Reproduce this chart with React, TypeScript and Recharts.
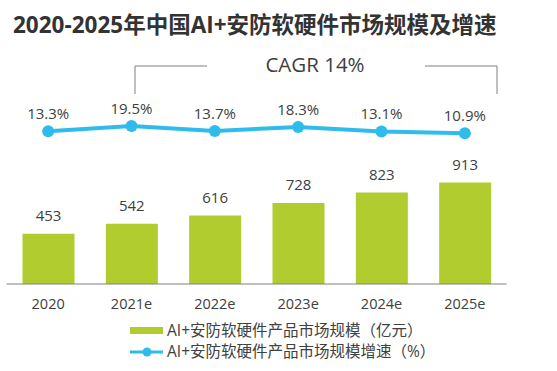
import React from 'react';
import { ComposedChart, Bar, Line, XAxis, YAxis, LabelList, Customized } from 'recharts';

const categories = ['2020', '2021e', '2022e', '2023e', '2024e', '2025e'];
const marketSize = [453, 542, 616, 728, 823, 913];
const growthRate = [13.3, 19.5, 13.7, 18.3, 13.1, 10.9];

const title = '2020-2025年中国AI+安防软硬件市场规模及增速';
const cagrLabel = 'CAGR 14%';
const barName = 'AI+安防软硬件产品市场规模（亿元）';
const lineName = 'AI+安防软硬件产品市场规模增速（%）';

const GREEN = '#b0cc2e';
const BLUE = '#2fbcec';
const TEXT = '#404040';
const GRAY = '#808080';
const FONT = "'Open Sans', 'Noto Sans CJK SC', sans-serif";

const data = categories.map((c, i) => ({ name: c, size: marketSize[i], rate: growthRate[i] }));

const CagrBracket = () => (
  <g>
    <polyline points="135,94 135,66 207,66" fill="none" stroke={GRAY} strokeWidth={1} />
    <polyline points="425,66 497,66 497,94" fill="none" stroke={GRAY} strokeWidth={1} />
    <text x={315} y={71.5} textAnchor="middle" fontSize={20.5} fill={TEXT} fontFamily={FONT}>{cagrLabel}</text>
  </g>
);

export default function App() {
  return (
    <div style={{ position: 'absolute', left: 0, top: 0, width: 557, height: 371, background: '#fff', fontFamily: FONT }}>
      <div style={{ position: 'absolute', left: 13, top: 10, fontSize: 22.5, fontWeight: 700, color: '#333', whiteSpace: 'nowrap', lineHeight: '30px' }}>
        {title}
      </div>
      <ComposedChart
        width={557}
        height={371}
        data={data}
        margin={{ top: 64, right: 50.5, bottom: 57, left: 6.5 }}
        barCategoryGap="19%"
      >
        <XAxis
          dataKey="name"
          axisLine={{ stroke: GRAY, strokeWidth: 1 }}
          tickLine={false}
          tick={{ fill: TEXT, fontSize: 14.5, fontFamily: FONT }}
          tickMargin={9}
        />
        <YAxis yAxisId="left" hide domain={[0, 1980]} />
        <YAxis yAxisId="right" hide domain={[-166.4, 92.4]} />
        <Bar yAxisId="left" dataKey="size" fill={GREEN} barSize={52} isAnimationActive={false}>
          <LabelList dataKey="size" position="top" offset={13} fill={TEXT} fontSize={15} fontFamily={FONT} />
        </Bar>
        <Line
          yAxisId="right"
          dataKey="rate"
          stroke={BLUE}
          strokeWidth={4}
          dot={{ r: 6, fill: BLUE, stroke: BLUE, strokeWidth: 0 }}
          isAnimationActive={false}
        >
          <LabelList dataKey="rate" position="top" offset={12} fill={TEXT} fontSize={15} fontFamily={FONT} formatter={(v: number) => `${v}%`} />
        </Line>
        <Customized component={CagrBracket} />
      </ComposedChart>
      <div style={{ position: 'absolute', left: 130, top: 320, fontSize: 15.5, color: TEXT, lineHeight: '21px' }}>
        <div style={{ display: 'flex', alignItems: 'center', whiteSpace: 'nowrap' }}>
          <span style={{ display: 'inline-block', width: 33, height: 7, background: GREEN, marginRight: 4 }} />
          {barName}
        </div>
        <div style={{ display: 'flex', alignItems: 'center', whiteSpace: 'nowrap' }}>
          <svg width={33} height={12} style={{ marginRight: 4 }}>
            <line x1={0} y1={6} x2={33} y2={6} stroke={BLUE} strokeWidth={3} />
            <circle cx={17} cy={6} r={4.5} fill={BLUE} />
          </svg>
          {lineName}
        </div>
      </div>
    </div>
  );
}
